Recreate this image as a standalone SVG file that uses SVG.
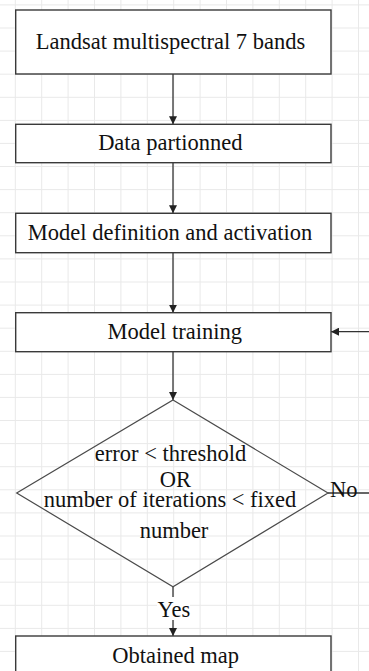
<svg xmlns="http://www.w3.org/2000/svg" width="369" height="671" viewBox="0 0 369 671">
<style>
.grid{stroke:#e9e9e9;stroke-width:1;fill:none}
.box{fill:#ffffff;stroke:#3a3a3a;stroke-width:1.4}
.dia{fill:none;stroke:#4a4a4a;stroke-width:1.2}
.con{fill:none;stroke:#333333;stroke-width:1.3}
.t{font-family:"Liberation Serif","Times New Roman",serif;font-size:22.5px;fill:#111111;text-anchor:middle}
</style>
<defs>
<marker id="arr" viewBox="0 0 8 8" refX="8" refY="4" markerWidth="8" markerHeight="8" markerUnits="userSpaceOnUse" orient="auto">
<path d="M0,0 L8,4 L0,8 Z" fill="#222222"/>
</marker>
</defs>
<rect x="0" y="0" width="369" height="671" fill="#ffffff"/>
<g id="grid" class="grid">
<path d="M15.3,0V671M41.7,0V671M68.1,0V671M94.5,0V671M120.9,0V671M147.3,0V671M173.7,0V671M200.1,0V671M226.5,0V671M252.9,0V671M279.3,0V671M305.7,0V671M332.1,0V671M358.5,0V671"/>
<path d="M0,4.9H369M0,28H369M0,51.1H369M0,74.2H369M0,97.3H369M0,120.4H369M0,143.4H369M0,166.5H369M0,189.6H369M0,212.7H369M0,235.8H369M0,258.9H369M0,282H369M0,305.1H369M0,328.2H369M0,351.3H369M0,374.4H369M0,397.4H369M0,420.5H369M0,443.6H369M0,466.7H369M0,489.8H369M0,512.9H369M0,536H369M0,559.1H369M0,582.2H369M0,605.3H369M0,628.4H369M0,651.4H369"/>
</g>
<g id="connectors">
<path class="con" d="M173,74 V124.3" marker-end="url(#arr)"/>
<path class="con" d="M173,162.7 V213.3" marker-end="url(#arr)"/>
<path class="con" d="M173,252.7 V312.7" marker-end="url(#arr)"/>
<path class="con" d="M173,351.7 V400" marker-end="url(#arr)"/>
<path class="con" d="M369,331.7 H331" marker-end="url(#arr)"/>
<path class="con" d="M328,493 H369"/>
<path class="con" d="M173,586.7 V636" marker-end="url(#arr)"/>
<rect x="157" y="597" width="33" height="23" fill="#ffffff"/>
<text class="t" x="173.8" y="616.7">Yes</text>
<text class="t" x="343.8" y="497.3">No</text>
</g>
<g id="n1"><rect class="box" x="15.7" y="10" width="315.3" height="64"/><text class="t" x="170.5" y="49.3">Landsat multispectral 7 bands</text></g>
<g id="n2"><rect class="box" x="15.7" y="124.3" width="315.3" height="38.4"/><text class="t" x="170.3" y="150">Data partionned</text></g>
<g id="n3"><rect class="box" x="15.7" y="213.3" width="315.3" height="39.4"/><text class="t" x="170" y="240">Model definition and activation</text></g>
<g id="n4"><rect class="box" x="15.7" y="312.7" width="315.3" height="39"/><text class="t" x="174.8" y="339.3">Model training</text></g>
<g id="n5"><path class="dia" d="M173,400 L328,493 L173,586.7 L16.7,493 Z"/>
<text class="t" x="170.5" y="461">error &lt; threshold</text>
<text class="t" x="175.3" y="486.7">OR</text>
<text class="t" x="170" y="506.7">number of iterations &lt; fixed</text>
<text class="t" x="174" y="538.3">number</text></g>
<g id="n6"><rect class="box" x="15.7" y="636" width="315.3" height="45"/><text class="t" x="175.7" y="662.5">Obtained map</text></g>
</svg>
